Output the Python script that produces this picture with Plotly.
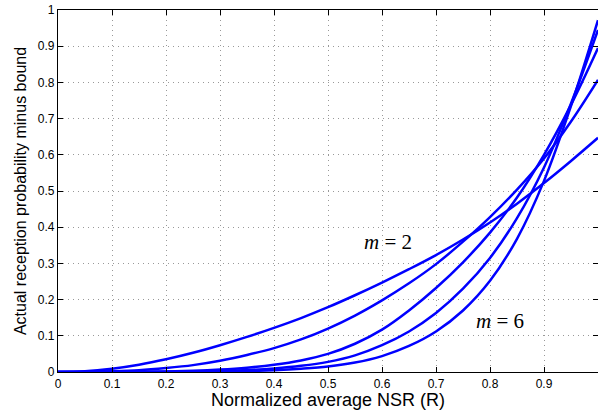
import plotly.graph_objects as go

# normalized average NSR (R)
r = [0.0, 0.05, 0.1, 0.15, 0.2, 0.25, 0.3, 0.35, 0.4, 0.45, 0.5,
     0.55, 0.6, 0.65, 0.7, 0.75, 0.8, 0.85, 0.9, 0.95, 1.0]

# actual reception probability minus bound
m2 = [0.0, 0.002, 0.009, 0.020, 0.035, 0.053, 0.074, 0.097, 0.122, 0.149, 0.179,
      0.212, 0.247, 0.284, 0.323, 0.366, 0.413, 0.465, 0.522, 0.583, 0.647]
m3 = [0.0, 0.0003, 0.002, 0.005, 0.011, 0.019, 0.031, 0.047, 0.066, 0.090, 0.120,
      0.156, 0.198, 0.245, 0.298, 0.360, 0.428, 0.504, 0.590, 0.692, 0.807]
m4 = [0.0, 0.0, 0.0002, 0.0006, 0.0016, 0.0035, 0.0068, 0.012, 0.020, 0.032, 0.050,
      0.078, 0.117, 0.170, 0.232, 0.303, 0.385, 0.482, 0.600, 0.738, 0.895]
m5 = [0.0, 0.0, 0.0, 0.0002, 0.0006, 0.0014, 0.003, 0.0055, 0.010, 0.017, 0.028,
      0.046, 0.074, 0.112, 0.163, 0.230, 0.315, 0.425, 0.565, 0.742, 0.945]
m6 = [0.0, 0.0, 0.0, 0.0, 0.0002, 0.0005, 0.0012, 0.0025, 0.005, 0.009, 0.015,
      0.026, 0.044, 0.072, 0.112, 0.170, 0.252, 0.368, 0.528, 0.735, 0.972]

ticks = [0, 0.1, 0.2, 0.3, 0.4, 0.5, 0.6, 0.7, 0.8, 0.9, 1]
tick_text = ["0", "0.1", "0.2", "0.3", "0.4", "0.5", "0.6", "0.7", "0.8", "0.9", "1"]

fig = go.Figure()
for ys in [m2, m3, m4, m5, m6]:
    fig.add_trace(go.Scatter(x=r, y=ys, mode="lines",
                             line=dict(color="#0000ff", width=2.5, shape="spline", smoothing=1.0),
                             showlegend=False, hoverinfo="skip"))

axis_style = dict(
    range=[0, 1], tickvals=ticks, ticktext=tick_text, automargin=False,
    showline=True, linecolor="black", linewidth=1.2, mirror="ticks",
    ticks="inside", ticklen=5, tickcolor="black",
    showgrid=True, gridcolor="#999999", griddash="1px,4px", gridwidth=1,
    zeroline=False, tickfont=dict(family="Liberation Sans, Arial", size=12, color="black"),
)

fig.update_xaxes(**axis_style,
                 title=dict(text="Normalized average NSR (R)", standoff=0,
                            font=dict(family="Liberation Sans, Arial", size=18, color="black")))
fig.update_yaxes(**axis_style,
                 title=dict(text="Actual reception probability minus bound", standoff=7,
                            font=dict(family="Liberation Sans, Arial", size=16, color="black")))

fig.add_annotation(x=0.612, y=0.36, text="<i>m</i> = 2", showarrow=False,
                   font=dict(family="Liberation Serif", size=21, color="black"))
fig.add_annotation(x=0.818, y=0.14, text="<i>m</i> = 6", showarrow=False,
                   font=dict(family="Liberation Serif", size=21, color="black"))

fig.update_layout(width=598, height=412, margin=dict(l=58, r=0, t=10, b=40),
                  plot_bgcolor="white", paper_bgcolor="white")

# drop the default page margin so the figure sits at the window's top-left corner
fig.write_html("out.html", config={"displayModeBar": False},
               post_script="document.body.style.margin='0';")
